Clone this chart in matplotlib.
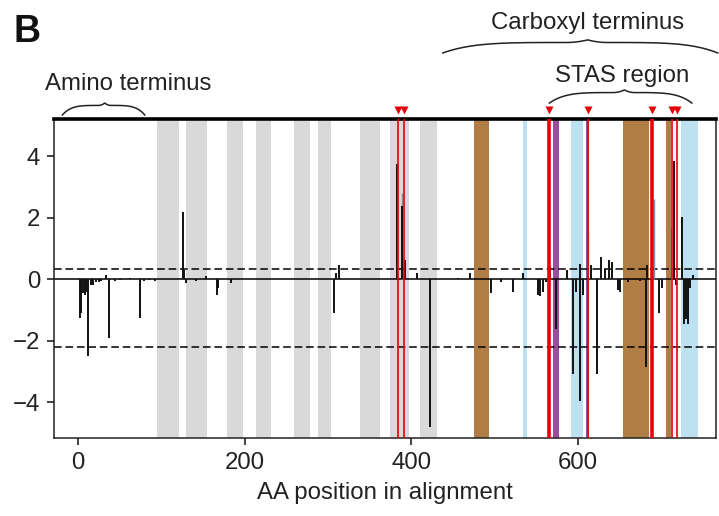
import numpy as np
import matplotlib
matplotlib.use("Agg")
import matplotlib.pyplot as plt
from matplotlib.transforms import blended_transform_factory

plt.rcParams['font.family'] = ['Liberation Sans', 'DejaVu Sans']

# Data
SpikePos = [2, 4, 6, 8, 10, 12.4, 15, 18, 21, 25, 28, 33.6, 37.6, 44, 50, 62,
            74.4, 79, 85, 92, 125.6, 127, 130, 141, 154, 166.4, 168, 184,
            307, 310, 312.8, 382.4, 389.2, 392.4, 406.4, 422.4, 456.4, 470.4,
            496.4, 508, 522.4, 534.4, 552, 555, 558, 562, 567, 574.4, 587,
            594.4, 598, 602.4, 603, 606.4, 616.4, 623.2, 627.6, 633, 637.6,
            641.6, 648.4, 650.4, 660, 675, 681.6, 683, 697.6, 701, 715.6, 718,
            725.6, 728, 730, 732, 735, 738]
SpikeVal = [-1.26, -1.1, -0.45, -0.5, -0.4, -2.49, -0.2, -0.18, -0.1, -0.08,
            -0.05, 0.14, -1.9, -0.05, -0.04, 0.05, -1.26, -0.05, -0.04, -0.05,
            2.18, 0.3, -0.12, -0.05, 0.12, -0.5, -0.3, -0.12, -1.1, 0.2, 0.48,
            3.74, 2.4, 0.62, 0.2, -4.8, 0.05, 0.2, -0.45, -0.08, -0.4, 0.19,
            -0.5, -0.55, -0.4, -0.1, 0.4, -1.63, 0.3, -3.09, -0.4, -3.97, 0.5,
            -0.5, 0.46, -3.09, 0.73, 0.35, 0.62, 0.57, -0.34, -0.4, -0.08,
            -0.05, -2.87, 0.46, -1.1, -0.3, 3.85, -0.2, 2.02, -1.47, -1.3,
            -1.45, -0.3, 0.15]
FaintPos = [389, 612.4, 692, 712.4]
FaintVal = [2.8, 1.54, 2.6, 1.7]

Thresholds = [0.33, -2.2]

GrayBands = [(95, 121), (129, 155), (179, 198), (213, 232), (259, 278),
             (288, 304), (338, 363), (374, 397), (410, 431)]
BrownBands = [(475, 493), (654, 686), (706, 712)]
BlueBands = [(534, 539), (592, 606), (724, 744)]
PurpleBands = [(570, 578), (610, 613.5)]

RedThin = [384.0, 391.3, 612.0, 713.6, 719.2]
RedThick = [565.6, 689.0]

# (label, start, end, peak)
Regions = [("Amino terminus", -19, 80, 32),
           ("Carboxyl terminus", 438, 768, 612),
           ("STAS region", 566, 737, 656)]

fig = plt.figure(figsize=(7.19, 5.16), dpi=100)
ax = fig.add_axes([0.0751, 0.1512, 0.9207, 0.6182])

for a, b in GrayBands:
    ax.axvspan(a, b, color="#d9d9d9", lw=0, zorder=0)
for a, b in BrownBands:
    ax.axvspan(a, b, color="#b07d45", lw=0, zorder=0)
for a, b in BlueBands:
    ax.axvspan(a, b, color="#bde1f1", lw=0, zorder=0)
for a, b in PurpleBands:
    ax.axvspan(a, b, color="#9a4f9e", lw=0, zorder=1)

ax.axhline(0, color="k", lw=1.1, zorder=2)
for t in Thresholds:
    ax.axhline(t, color="k", lw=1.1, ls=(0, (5, 2.5)), zorder=2)

ax.vlines(FaintPos, 0, FaintVal, color="#8a8a8a", lw=1.0, zorder=2)
ax.vlines(SpikePos, 0, SpikeVal, color="#111111", lw=1.4, zorder=2)

for x in RedThin:
    ax.axvline(x, color="#e8000b", lw=1.2, zorder=3)
for x in RedThick:
    ax.axvline(x, color="#e8000b", lw=2.6, zorder=3)

trans = blended_transform_factory(ax.transData, ax.transAxes)
ax.plot(RedThin + RedThick, [1.027] * (len(RedThin) + len(RedThick)), "v",
        color="#e8000b", ms=6, mec="none", transform=trans, clip_on=False)

ax.set_xlim(-29, 766)
ax.set_ylim(-5.17, 5.22)
ax.set_xticks([0, 200, 400, 600])
ax.set_yticks([-4, -2, 0, 2, 4])
ax.tick_params(direction="out", length=5, width=1.2, labelsize=17.3,
               pad=5, colors="#222222")
ax.set_xlabel("AA position in alignment", fontsize=17.3, color="#222222",
              labelpad=6)
for s in ["left", "right", "bottom"]:
    ax.spines[s].set_linewidth(1.1)
    ax.spines[s].set_color("#222222")
ax.spines["top"].set_linewidth(2.6)
ax.spines["top"].set_color("k")


def brace(x0, x1, xm, y0, y1):
    t = np.linspace(0, 1, 60)
    g = 0.8 * (1 - (1 - t) ** 5) + 0.2 * np.clip((t - 0.85) / 0.15, 0, 1) ** 2
    xl = x0 + (xm - x0) * t
    xr = x1 + (xm - x1) * t
    y = y0 + (y1 - y0) * g
    xs = np.concatenate([xl, xr[::-1]])
    ys = np.concatenate([y, y[::-1]])
    ax.plot(xs, ys, color="#222222", lw=1.1, transform=trans, clip_on=False)


# brace heights in axes fraction, text baselines in figure pixels
BraceY = [(1.0125, 1.050), (1.207, 1.248), (1.050, 1.091)]
TextX = [128, 588, 622]
TextBase = [90, 29, 82]
for (lab, a, b, m), (y0, y1), tx, tb in zip(Regions, BraceY, TextX, TextBase):
    brace(a, b, m, y0, y1)
    fig.text(tx / 719, 1 - tb / 516, lab, ha="center", va="baseline",
             fontsize=17.3, color="#222222")

fig.text(14 / 719, 1 - 42 / 516, "B", ha="left", va="baseline",
         fontsize=27, fontweight="bold", color="#111111")

fig.savefig("out.png", dpi=100)
